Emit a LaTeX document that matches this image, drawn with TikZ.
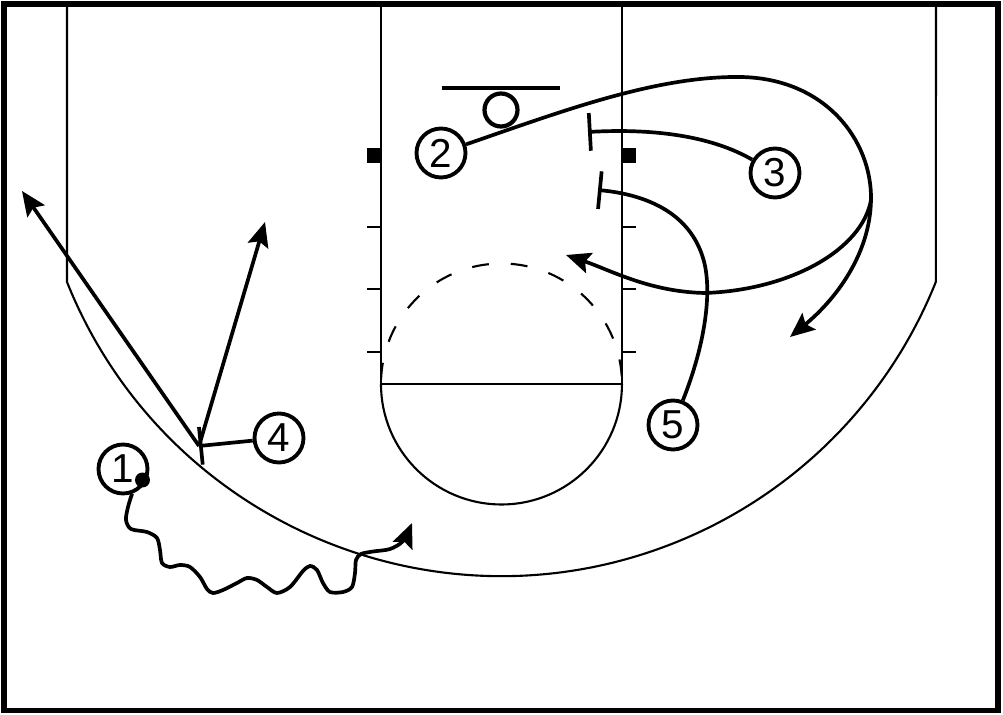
\documentclass[tikz,border=0pt]{standalone}
\usepackage{fontspec}
\setmainfont{Liberation Sans}
\usetikzlibrary{arrows.meta}
\begin{document}
\begin{tikzpicture}[x=0.02cm,y=-0.02cm,
  court/.style={line width=1.2pt},
  move/.style={line width=2.1pt},
  player/.style={circle,draw,line width=2.2pt,minimum size=0.98cm,inner sep=0pt,fill=white,
                 font=\fontsize{23}{23}\selectfont},
  arr/.style={-{Stealth[length=14pt,width=12pt,inset=2.5pt]}},
  screen/.style={-{Bar[width=21.5pt]}}]
\useasboundingbox (0,0) rectangle (1003,715);
% outer border
\draw[line width=2.9pt] (4,4) rectangle (998,710.5);
% three point line
\draw[court] (67,4) -- (67,282) arc[start angle=201.81, end angle=338.19, radius=9.36cm] -- (936,4);
% lane
\draw[court] (381,4) -- (381,384) -- (622,384) -- (622,4);
\draw[court] (381,384) arc[start angle=180, end angle=360, radius=2.41cm];
\draw[court, dash pattern=on 9.6pt off 12.5pt, dash phase=19.6pt] (381,384) arc[start angle=180, end angle=0, radius=2.41cm];
\foreach \yy in {227,289,352} {
  \draw[court] (367,\yy) -- (381,\yy);
  \draw[court] (622,\yy) -- (636,\yy);
}
\fill (367,148) rectangle (381,163);
\fill (622,148) rectangle (636,163);
% backboard and rim
\draw[line width=2.5pt] (442,88) -- (560,88);
\draw[line width=2.4pt] (501,110) circle[radius=0.33cm];
% players
\node[player] (p1) at (123,469) {1};
\node[player] (p2) at (441,153) {2};
\node[player] (p3) at (775,173) {3};
\node[player] (p4) at (279,438) {4};
\node[player] (p5) at (673,425) {5};
\fill (142.5,480) circle[radius=0.15cm];
% coordinates
\coordinate (split) at (871,200);
\coordinate (endA) at (790,337);
\coordinate (midB) at (705,293);
\coordinate (endB) at (566,255);
\coordinate (s3) at (588,132);
\coordinate (mid5) at (703,258);
\coordinate (s5) at (598,190);
\coordinate (s4) at (199,446);
\coordinate (e4a) at (22,191);
\coordinate (e4b) at (265,222);
\coordinate (e1) at (412,523);
% player 2 cut
\draw[move] (p2) .. controls (560,112) and (655,76) .. (740,77) .. controls (825,78) and (872,140) .. (split);
\draw[move,arr] (split) .. controls (870,255) and (835,300) .. (endA);
\draw[move,arr] (split) .. controls (862,250) and (790,290) .. (midB) .. controls (650,292) and (610,270) .. (endB);
% player 3 screen
\draw[move,screen] (p3) .. controls (715,138) and (660,128) .. (s3);
% player 5 screen
\draw[move,screen] (p5) .. controls (705,345) and (713,290) .. (mid5) .. controls (690,215) and (650,195) .. (s5);
% player 4 screen and cuts
\draw[move,screen] (p4) -- (s4);
\draw[move,arr] (s4) -- (e4a);
\draw[move,arr] (s4) -- (e4b);
% player 1 dribble
\draw[move,arr] plot[smooth,tension=0.5] coordinates {(p1.-70) (128,507) (126,520) (131,529) (147,532) (157,538) (160,550) (162,563) (170,567) (180,565) (190,567) (200,577) (207,589) (213,593) (223,590) (237,583) (247,578) (257,580) (267,587) (277,593) (290,587) (303,571) (310,566) (317,570) (323,583) (330,592) (343,592) (352,587) (355,573) (356,560) (361,554) (373,551.5) (390,549) (403,541) (e1)};
\end{tikzpicture}
\end{document}
